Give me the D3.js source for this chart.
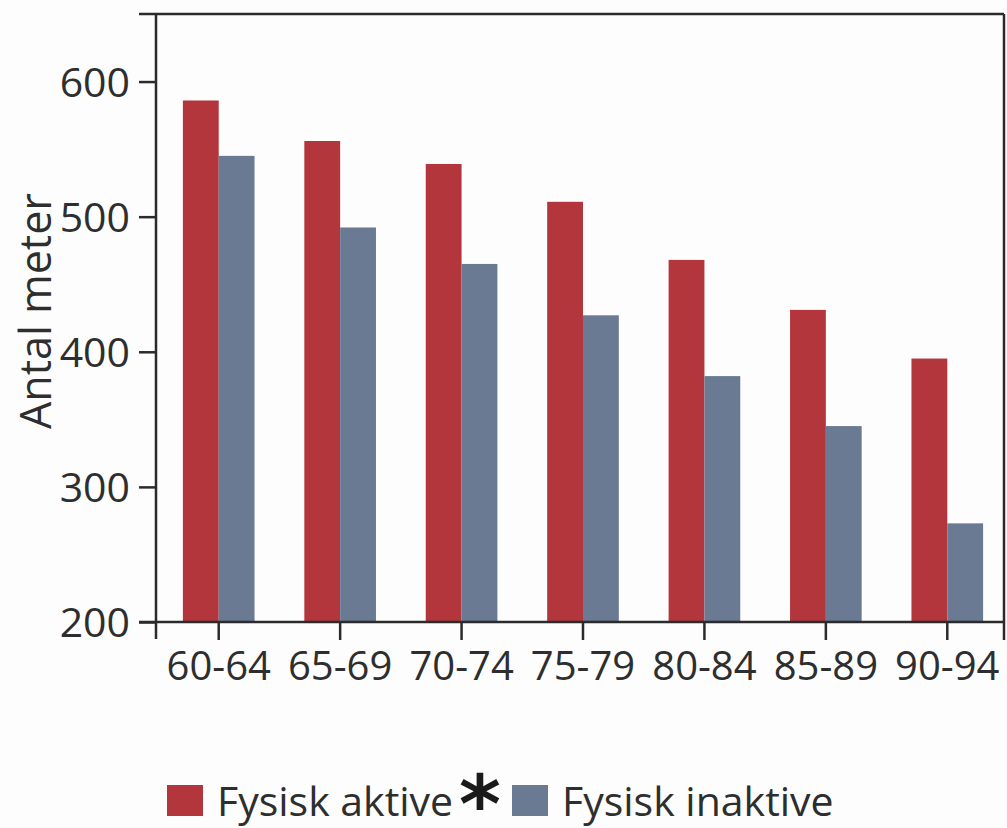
<!DOCTYPE html>
<html>
<head>
<meta charset="utf-8">
<script src="https://cdn.jsdelivr.net/npm/d3@7"></script>
<style>
  html, body { margin: 0; padding: 0; background: #fdfdfd; }
  svg { display: block; font-family: 'Open Sans', sans-serif; }
  .axis text { fill: #2e2e2e; }
  .axis line, .frame line { stroke: #2b2b2b; stroke-width: 2.5; }
</style>
</head>
<body>
<svg id="chart" width="1007" height="828"></svg>
<script>
const ageGroups = ['60-64', '65-69', '70-74', '75-79', '80-84', '85-89', '90-94'];
const aktive = [586, 556, 539, 511, 468, 431, 395];
const inaktive = [545, 492, 465, 427, 382, 345, 273];
const seriesNames = ['Fysisk aktive', 'Fysisk inaktive'];
const seriesColors = ['#b3363c', '#6b7a93'];
const yTicks = [200, 300, 400, 500, 600];

const plotL = 156, plotR = 1004, plotT = 14, plotB = 622;

const svg = d3.select('#chart');

const x = d3.scaleBand().domain(ageGroups).range([158, 1008])
  .paddingInner(0.41).paddingOuter(0.205);
const xSub = d3.scaleBand().domain([0, 1]).range([0, x.bandwidth()]);
const y = d3.scaleLinear().domain([200, 650]).range([plotB, plotT]);

// bars
const groups = svg.append('g').selectAll('g')
  .data(ageGroups.map((g, i) => ({ g, vals: [aktive[i], inaktive[i]] })))
  .enter().append('g')
  .attr('transform', d => `translate(${x(d.g)},0)`);

groups.selectAll('rect')
  .data(d => d.vals)
  .enter().append('rect')
  .attr('x', (d, i) => xSub(i))
  .attr('width', xSub.bandwidth())
  .attr('y', d => y(d))
  .attr('height', d => y(200) - y(d))
  .attr('fill', (d, i) => seriesColors[i]);

// frame lines
const frame = svg.append('g').attr('class', 'frame');
frame.append('line').attr('x1', 139).attr('x2', plotR).attr('y1', plotT).attr('y2', plotT);
frame.append('line').attr('x1', plotL).attr('x2', plotL).attr('y1', plotT).attr('y2', plotB + 17);
frame.append('line').attr('x1', plotR).attr('x2', plotR).attr('y1', plotT).attr('y2', plotB + 18);
frame.append('line').attr('x1', 139).attr('x2', plotR).attr('y1', plotB).attr('y2', plotB);

// y axis
const yAxis = svg.append('g').attr('class', 'axis')
  .attr('transform', `translate(${plotL},0)`)
  .call(d3.axisLeft(y).tickValues(yTicks).tickSize(17).tickPadding(9));
yAxis.attr('font-family', null).attr('font-size', null);
yAxis.select('.domain').remove();
yAxis.selectAll('text').style('font-size', '41px').attr('dy', '0.36em');

// x axis: ticks sit between the two bars of each group
const xAxis = svg.append('g').attr('class', 'axis')
  .attr('transform', `translate(0,${plotB})`)
  .call(d3.axisBottom(x).tickSize(18).tickPadding(12));
xAxis.attr('font-family', null).attr('font-size', null);
xAxis.select('.domain').remove();
xAxis.selectAll('text').style('font-size', '40px').attr('dy', '0.71em');

// y label
svg.append('text')
  .attr('transform', `translate(51,311) rotate(-90)`)
  .attr('text-anchor', 'middle')
  .style('font-size', '43px')
  .style('fill', '#2e2e2e')
  .text('Antal meter');

// legend
const legend = svg.append('g').attr('transform', 'translate(167,785)');
const legX = [0, 345];
seriesNames.forEach((name, i) => {
  const g = legend.append('g').attr('transform', `translate(${legX[i]},0)`);
  g.append('rect').attr('width', 36).attr('height', 31).attr('fill', seriesColors[i]);
  g.append('text').attr('x', 50).attr('y', 31)
    .style('font-size', '41px').style('fill', '#2e2e2e')
    .text(name);
});
legend.append('text').attr('x', 292).attr('y', 47)
  .style('font-family', "'DejaVu Sans', sans-serif")
  .style('font-size', '80px').style('font-weight', 'bold').style('fill', '#1a1a1a')
  .text('*');
</script>
</body>
</html>
